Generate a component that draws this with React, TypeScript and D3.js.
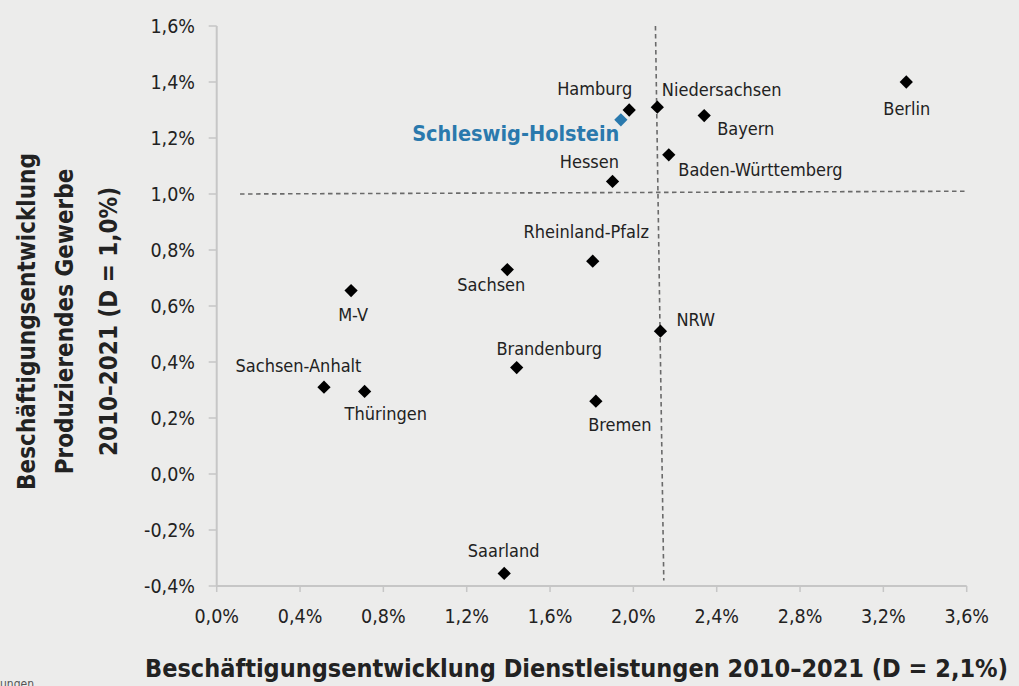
import React from "react";
import * as d3 from "d3";

const states = [
  "Hamburg", "Schleswig-Holstein", "Niedersachsen", "Bayern", "Baden-Württemberg",
  "Hessen", "Rheinland-Pfalz", "Sachsen", "NRW", "Brandenburg", "Bremen",
  "M-V", "Sachsen-Anhalt", "Thüringen", "Berlin", "Saarland",
];
const dienstleistungen = [1.98, 1.94, 2.115, 2.34, 2.17, 1.9, 1.805, 1.395, 2.13, 1.44, 1.82, 0.645, 0.515, 0.71, 3.31, 1.38];
const produzierend = [1.30, 1.265, 1.31, 1.28, 1.14, 1.045, 0.76, 0.73, 0.51, 0.38, 0.26, 0.655, 0.31, 0.295, 1.40, -0.355];
const highlighted = "Schleswig-Holstein";

const xTicks = [0, 0.4, 0.8, 1.2, 1.6, 2.0, 2.4, 2.8, 3.2, 3.6];
const yTicks = [-0.4, -0.2, 0, 0.2, 0.4, 0.6, 0.8, 1.0, 1.2, 1.4, 1.6];

const vLine = [[2.106, 1.6], [2.146, -0.38]];
const hLine = [[0.112, 1.0], [3.6, 1.01]];

const xTitle = "Beschäftigungsentwicklung Dienstleistungen 2010–2021 (D = 2,1%)";
const yTitleLines = ["Beschäftigungsentwicklung", "Produzierendes Gewerbe", "2010–2021 (D = 1,0%)"];
const footnote = "ungen";

// label layout (pixel offsets from each point)
const labelLayout: Record<string, [string, number, number]> = {
  "Hamburg": ["end", 3, -15],
  "Schleswig-Holstein": ["end", -1.5, 21.5],
  "Niedersachsen": ["start", 4.5, -11.5],
  "Bayern": ["start", 13, 19],
  "Baden-Württemberg": ["start", 9.5, 21],
  "Hessen": ["end", 6.5, -13.5],
  "Rheinland-Pfalz": ["middle", -6.5, -23],
  "Sachsen": ["middle", -16, 21.5],
  "NRW": ["start", 16, -5],
  "Brandenburg": ["middle", 32.5, -12.5],
  "Bremen": ["middle", 24, 29.5],
  "M-V": ["middle", 2, 30.5],
  "Sachsen-Anhalt": ["middle", -25.5, -15],
  "Thüringen": ["start", -20, 28.5],
  "Berlin": ["middle", 0.5, 32.5],
  "Saarland": ["middle", -0.5, -16.5],
};

const fmt = (v: number) => d3.format(".1f")(v).replace(".", ",").replace("−", "-") + "%";

export default function App() {
  const W = 1019, H = 686;
  const x = d3.scaleLinear().domain([0, 3.6]).range([216.7, 966.7]);
  const y = d3.scaleLinear().domain([-0.4, 1.6]).range([586, 26]);
  const font = "'DejaVu Sans Condensed', 'Liberation Sans Narrow', sans-serif";
  const axisColor = "#c6c6c6";
  const textColor = "#222222";
  const blue = "#2a79ad";
  const diamond = d3.symbol().type(d3.symbolSquare).size(88)();
  const line = d3.line<number[]>().x((d) => x(d[0])).y((d) => y(d[1]));

  return (
    <svg width={W} height={H} style={{ position: "absolute", left: 0, top: 0, background: "#ececeb" }} fontFamily={font}>
      <rect x={0} y={0} width={W} height={H} fill="#ececeb" />
      {/* mean lines */}
      <path d={line(hLine) || ""} stroke="#6a6a6a" strokeWidth={1.6} strokeDasharray="4.5,3.5" fill="none" />
      <path d={line(vLine) || ""} stroke="#6a6a6a" strokeWidth={1.6} strokeDasharray="4.5,3.5" fill="none" />
      {/* axes */}
      <line x1={x(0)} x2={x(0)} y1={y(1.6)} y2={y(-0.4)} stroke={axisColor} strokeWidth={2} />
      <line x1={x(0)} x2={x(3.6)} y1={y(-0.4)} y2={y(-0.4)} stroke={axisColor} strokeWidth={2} />
      {yTicks.map((t) => (
        <g key={"y" + t}>
          <line x1={x(0) - 8} x2={x(0)} y1={y(t)} y2={y(t)} stroke={axisColor} strokeWidth={1.5} />
          <text x={195} y={y(t) + 7} textAnchor="end" fontSize={19.5} fill={textColor}>{fmt(t)}</text>
        </g>
      ))}
      {xTicks.map((t) => (
        <g key={"x" + t}>
          <line x1={x(t)} x2={x(t)} y1={y(-0.4)} y2={y(-0.4) + 6} stroke={axisColor} strokeWidth={1.5} />
          <text x={x(t)} y={623} textAnchor="middle" fontSize={19.5} fill={textColor}>{fmt(t)}</text>
        </g>
      ))}
      {/* points */}
      {states.map((s, i) => {
        const px = x(dienstleistungen[i]);
        const py = y(produzierend[i]);
        const hl = s === highlighted;
        const [anchor, dx, dy] = labelLayout[s];
        return (
          <g key={s}>
            <path d={diamond || ""} transform={`translate(${px},${py}) rotate(45)`} fill={hl ? blue : "#000"} />
            <text x={px + dx} y={py + dy} textAnchor={anchor as any} fontSize={hl ? 21.5 : 18}
              fontWeight={hl ? "bold" : "normal"} fill={hl ? blue : textColor}>{s}</text>
          </g>
        );
      })}
      {/* titles */}
      <text x={576.5} y={677} textAnchor="middle" fontSize={25} fontWeight="bold" fill={textColor}>{xTitle}</text>
      <g transform="translate(0,321.5) rotate(-90)">
        {yTitleLines.map((l, i) => (
          <text key={l} x={0} y={[35, 73, 117][i]} textAnchor="middle" fontSize={24} fontWeight="bold" fill={textColor}>{l}</text>
        ))}
      </g>
      <text x={0} y={688} fontSize={12} fill="#555">{footnote}</text>
    </svg>
  );
}
